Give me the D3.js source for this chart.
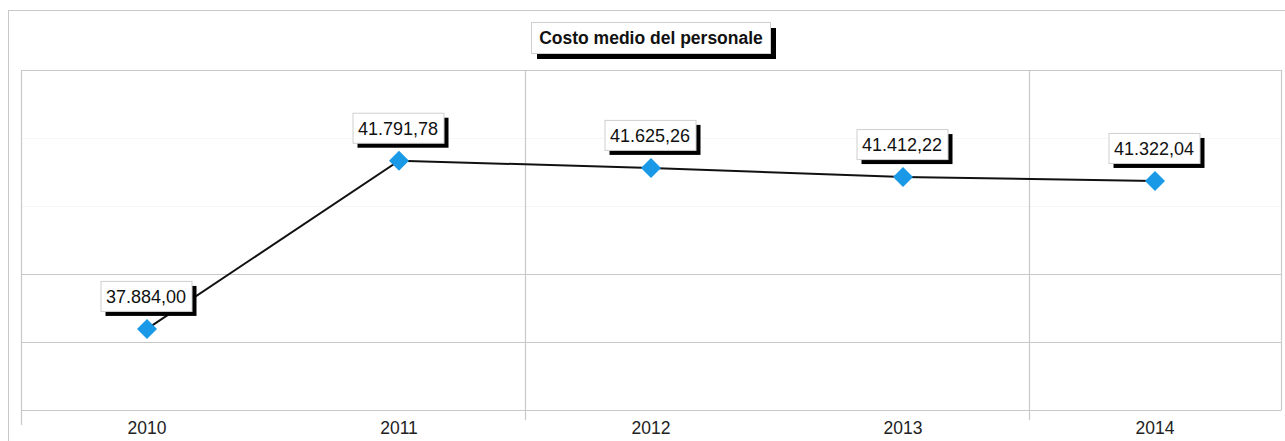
<!DOCTYPE html>
<html><head><meta charset="utf-8">
<script src="https://d3js.org/d3.v7.min.js"></script>
<style>html,body{margin:0;padding:0;background:#fff;}svg{display:block;font-family:"Liberation Sans",Arial,sans-serif;}</style>
</head><body>
<script>
const categories = ["2010","2011","2012","2013","2014"];
const values = [37884.00, 41791.78, 41625.26, 41412.22, 41322.04];
const valueLabels = ["37.884,00","41.791,78","41.625,26","41.412,22","41.322,04"];
const gridValues = [36000, 37580, 39160, 40740, 42320, 43900];
const title = "Costo medio del personale";

const W = 1285, H = 441;
const plot = {left: 21, top: 70, right: 1281, bottom: 410};
const svg = d3.select("body").append("svg").attr("width", W).attr("height", H);

// outer frame
svg.append("rect").attr("x", 8.5).attr("y", 10.5).attr("width", W).attr("height", H)
  .attr("fill", "none").attr("stroke", "#c8c8c8");

const x = d3.scaleBand().domain(categories).range([plot.left, plot.right]).padding(0);
const y = d3.scaleLinear().domain([36000, 43900]).range([plot.bottom, plot.top]);

// horizontal grid
svg.append("g").selectAll("line").data(gridValues).join("line")
  .attr("x1", plot.left).attr("x2", plot.right)
  .attr("y1", d => Math.round(y(d)) + 0.5).attr("y2", d => Math.round(y(d)) + 0.5)
  .attr("stroke", (d, i) => (i === 3 || i === 4) ? "#f6f6f6" : "#c8c8c8").attr("stroke-width", 1.2);

// vertical grid at every second category boundary
const vBounds = [categories[2], categories[4]];
svg.append("g").selectAll("line").data(vBounds).join("line")
  .attr("x1", d => Math.round(x(d)) + 0.5).attr("x2", d => Math.round(x(d)) + 0.5)
  .attr("y1", plot.top).attr("y2", plot.bottom + 10)
  .attr("stroke", "#c8c8c8").attr("stroke-width", 1.2);
// left & right plot edges
svg.append("line").attr("x1", plot.left + 0.5).attr("x2", plot.left + 0.5)
  .attr("y1", plot.top).attr("y2", plot.bottom + 15).attr("stroke", "#c8c8c8").attr("stroke-width", 1.2);
svg.append("line").attr("x1", plot.right + 0.5).attr("x2", plot.right + 0.5)
  .attr("y1", plot.top).attr("y2", plot.bottom).attr("stroke", "#c8c8c8").attr("stroke-width", 1.2);

// x axis
const xAxis = d3.axisBottom(x).tickSize(0).tickPadding(12);
const gx = svg.append("g").attr("transform", `translate(0,${plot.bottom})`).call(xAxis);
gx.select(".domain").attr("stroke", "#c8c8c8").attr("stroke-width", 1.2);
gx.selectAll("text").attr("font-size", 17.5).attr("fill", "#222").attr("font-family", "Liberation Sans, Arial, sans-serif");

// line
const cx = d => x(d) + x.bandwidth() / 2;
const pts = categories.map((c, i) => [cx(c), y(values[i])]);
svg.append("path").attr("d", d3.line()(pts)).attr("fill", "none")
  .attr("stroke", "#111").attr("stroke-width", 2);

// markers
svg.append("g").selectAll("path").data(pts).join("path")
  .attr("d", d3.symbol(d3.symbolSquare, 200)())
  .attr("transform", d => `translate(${d[0]},${d[1]}) rotate(45)`)
  .attr("fill", "#1a9ae6");

// labels
const lg = svg.append("g").selectAll("g").data(pts).join("g")
  .attr("transform", d => `translate(${d[0]},${d[1] - 17})`);
const bw = 91, bh = 30;
lg.append("rect").attr("x", -bw / 2 + 4).attr("y", -bh + 4).attr("width", bw).attr("height", bh).attr("fill", "#000");
lg.append("rect").attr("x", -bw / 2 - 0.5).attr("y", -bh - 0.5).attr("width", bw).attr("height", bh)
  .attr("fill", "#fff").attr("stroke", "#cfcfcf");
lg.append("text").attr("x", -1).attr("y", -9).attr("text-anchor", "middle")
  .attr("font-size", 18).attr("fill", "#111").text((d, i) => valueLabels[i]);

// title
const tg = svg.append("g").attr("transform", `translate(${(plot.left + plot.right) / 2},38)`);
tg.append("rect").attr("x", -119 + 5).attr("y", -15 + 5).attr("width", 239).attr("height", 31).attr("fill", "#000");
tg.append("rect").attr("x", -119.5).attr("y", -15.5).attr("width", 239).attr("height", 31)
  .attr("fill", "#fff").attr("stroke", "#cfcfcf");
tg.append("text").attr("x", 0).attr("y", 6).attr("text-anchor", "middle")
  .attr("font-size", 17.5).attr("font-weight", "bold").attr("fill", "#111").text(title);
</script>
</body></html>
